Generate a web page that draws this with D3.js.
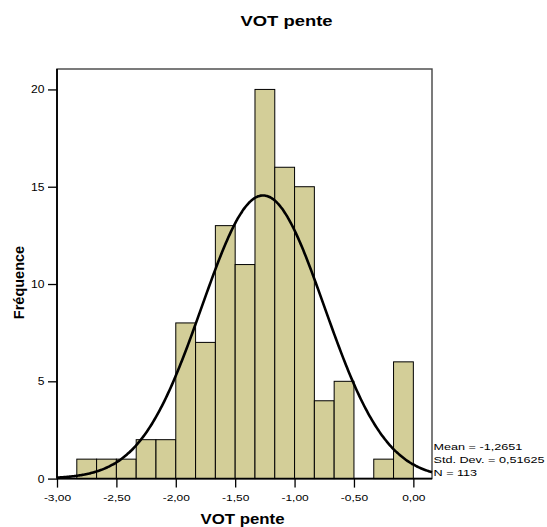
<!DOCTYPE html>
<html>
<head>
<meta charset="utf-8">
<script src="https://cdn.jsdelivr.net/npm/d3@7"></script>
<style>
  body { margin: 0; background: #fff; }
  svg text { font-family: "Liberation Sans", Arial, sans-serif; }
</style>
</head>
<body>
<svg id="chart" width="547" height="527"></svg>
<script>
// bin edges (start of each bin) and counts
const binStarts = [-2.8333, -2.6667, -2.5, -2.3333, -2.1667, -2.0, -1.8333, -1.6667, -1.5, -1.3333, -1.1667, -1.0, -0.8333, -0.6667, -0.5, -0.3333, -0.1667];
const counts = [1, 1, 1, 2, 2, 8, 7, 13, 11, 20, 16, 15, 4, 5, 0, 1, 6];
const binWidth = 1 / 6;
const xTicks = [-3, -2.5, -2, -1.5, -1, -0.5, 0];
const yTicks = [0, 5, 10, 15, 20];
const mean = -1.2651;
const sd = 0.51625;
const n = 113;
const statLines = ["Mean = -1,2651", "Std. Dev. = 0,51625", "N = 113"];

const svg = d3.select("#chart");
const mLeft = 57, mRight = 432, mTop = 69, mBottom = 478.6;

const x = d3.scaleLinear().domain([-3, 0.157]).range([mLeft, mRight]);
const y = d3.scaleLinear().domain([0, 21.05]).range([mBottom, mTop]);

const fmt = (d) => d3.format(".2f")(d).replace(".", ",").replace("−", "-");

// frame
svg.append("rect")
  .attr("x", mLeft).attr("y", mTop)
  .attr("width", mRight - mLeft).attr("height", mBottom - mTop)
  .attr("fill", "none").attr("stroke", "#444").attr("stroke-width", 1.4);

// bars
svg.selectAll("rect.bar")
  .data(binStarts.map((s, i) => ({ s, c: counts[i] })).filter((d) => d.c > 0))
  .enter()
  .append("rect")
  .attr("class", "bar")
  .attr("x", (d) => x(d.s))
  .attr("y", (d) => y(d.c))
  .attr("width", (d) => x(d.s + binWidth) - x(d.s))
  .attr("height", (d) => y(0) - y(d.c))
  .attr("fill", "#d3ce98")
  .attr("stroke", "#000")
  .attr("stroke-width", 1);

// normal curve
const pts = d3.range(0, 301).map((i) => {
  const v = -3 + (i / 300) * 3.157;
  const pdf = Math.exp(-0.5 * ((v - mean) / sd) ** 2) / (sd * Math.sqrt(2 * Math.PI));
  return [v, n * binWidth * pdf];
});
svg.append("path")
  .datum(pts)
  .attr("fill", "none")
  .attr("stroke", "#000")
  .attr("stroke-width", 2.6)
  .attr("d", d3.line().x((d) => x(d[0])).y((d) => y(d[1])).curve(d3.curveBasis));

// axes
const xAxis = svg.append("g")
  .attr("transform", `translate(0,${mBottom})`)
  .call(d3.axisBottom(x).tickValues(xTicks).tickSize(9).tickPadding(7).tickFormat(fmt));
const yAxis = svg.append("g")
  .attr("transform", `translate(${mLeft},0)`)
  .call(d3.axisLeft(y).tickValues(yTicks).tickSize(9).tickPadding(3));

[xAxis, yAxis].forEach((g) => {
  g.select(".domain").remove();
  g.selectAll("line").attr("stroke", "#000").attr("stroke-width", 1.3);
  g.selectAll("text").attr("fill", "#000")
    .attr("font-family", "Liberation Sans, Arial, sans-serif");
});
xAxis.selectAll("text").attr("font-size", 9.5).attr("transform", "scale(1.26,1)");
yAxis.selectAll("text").attr("font-size", 11).attr("x", 0)
  .attr("transform", "translate(-12.5,0) scale(1.1,1)");

svg.append("line").attr("x1", mLeft).attr("x2", mLeft).attr("y1", mTop).attr("y2", mBottom)
  .attr("stroke", "#000").attr("stroke-width", 1.8);
svg.append("line").attr("x1", mLeft).attr("x2", mRight).attr("y1", mBottom).attr("y2", mBottom)
  .attr("stroke", "#000").attr("stroke-width", 1.8);

// titles
svg.append("text")
  .attr("transform", "translate(286.5,26.3) scale(1.27,1)")
  .attr("text-anchor", "middle")
  .attr("font-size", 14.5).attr("font-weight", "bold")
  .text("VOT pente");
svg.append("text")
  .attr("transform", `translate(${(mLeft + mRight) / 2 - 2},524.3) scale(1.2,1)`)
  .attr("text-anchor", "middle")
  .attr("font-size", 14).attr("font-weight", "bold")
  .text("VOT pente");
svg.append("text")
  .attr("transform", "translate(23.5,282.5) rotate(-90)")
  .attr("text-anchor", "middle")
  .attr("font-size", 14.5).attr("font-weight", "bold")
  .text("Fréquence");

// stats
svg.selectAll("text.stat")
  .data(statLines)
  .enter()
  .append("text")
  .attr("class", "stat")
  .attr("transform", (d, i) => `translate(433.5,${450.3 + i * 12.9}) scale(1.29,1)`)
  .attr("font-size", 9.8)
  .text((d) => d);
</script>
</body>
</html>
